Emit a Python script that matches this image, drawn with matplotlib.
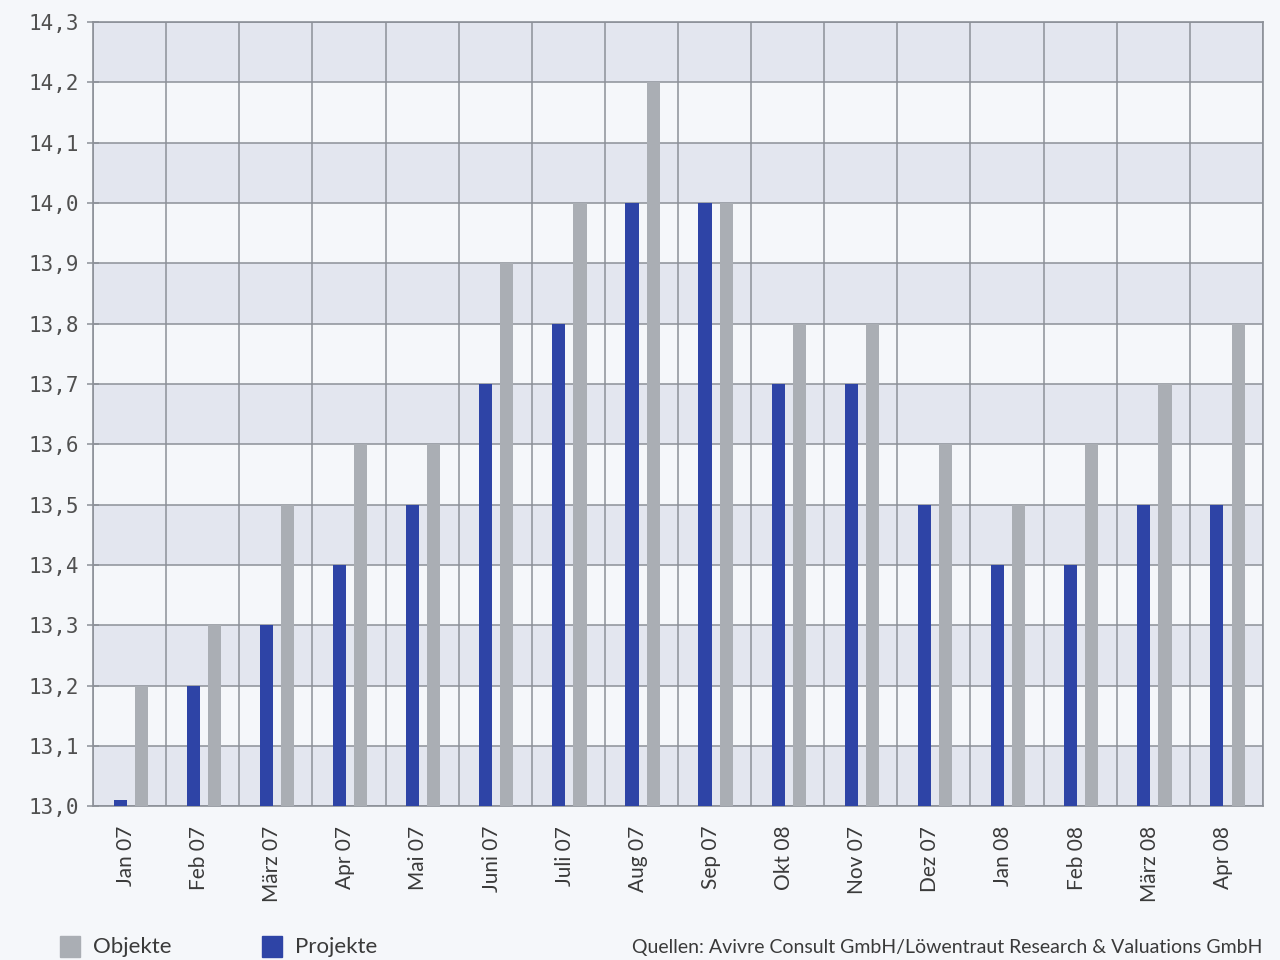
import numpy as np
import matplotlib
matplotlib.use('Agg')
import matplotlib.pyplot as plt
from matplotlib.patches import Rectangle

# Monatsdaten (Beschriftung wie im Original, inkl. "Okt 08")
monate = ['Jan 07', 'Feb 07', 'März 07', 'Apr 07', 'Mai 07', 'Juni 07', 'Juli 07', 'Aug 07',
          'Sep 07', 'Okt 08', 'Nov 07', 'Dez 07', 'Jan 08', 'Feb 08', 'März 08', 'Apr 08']
projekte = [13.01, 13.2, 13.3, 13.4, 13.5, 13.7, 13.8, 14.0,
            14.0, 13.7, 13.7, 13.5, 13.4, 13.4, 13.5, 13.5]
objekte = [13.2, 13.3, 13.5, 13.6, 13.6, 13.9, 14.0, 14.2,
           14.0, 13.8, 13.8, 13.6, 13.5, 13.6, 13.7, 13.8]
yticks = [13.0, 13.1, 13.2, 13.3, 13.4, 13.5, 13.6, 13.7, 13.8, 13.9, 14.0, 14.1, 14.2, 14.3]

blau = '#2e44a6'
grau = '#aaaeb4'
band = '#e3e6ef'
hell = '#f5f7fa'
linie = '#8c9098'
text = '#3a3a3a'

fig = plt.figure(figsize=(12.8, 9.6), dpi=100)
fig.patch.set_facecolor(hell)
ax = fig.add_axes([0.0727, 0.160, 0.914, 0.817])
ax.set_facecolor(hell)

ymin, ymax = 13.0, 14.3
n = len(monate)
x = np.arange(n)

# abwechselnde Baender
for i in range(len(yticks) - 1):
    if i % 2 == 0:
        ax.axhspan(yticks[i], yticks[i + 1], color=band, zorder=0, lw=0)

# Gitter
for yv in yticks:
    ax.axhline(yv, color=linie, lw=1.1, zorder=1)
for xv in range(n + 1):
    ax.axvline(xv, color=linie, lw=1.1, zorder=1)

w = 0.18
ax.bar(x + 0.37, np.array(projekte) - ymin, bottom=ymin, width=w, color=blau, zorder=3)
ax.bar(x + 0.66, np.array(objekte) - ymin, bottom=ymin, width=w, color=grau, zorder=3)

ax.set_xlim(0, n)
ax.set_ylim(ymin, ymax)
ax.set_yticks(yticks)
ax.set_yticklabels([('%.1f' % v).replace('.', ',') for v in yticks],
                   family='DejaVu Sans Mono', fontsize=15, color='#505050')
ax.tick_params(axis='y', direction='inout', length=8, width=1.1, color=linie, pad=6)

ax.set_xticks(x + 0.45)
ax.set_xticklabels(monate, rotation=90, fontsize=15, family='Lato', color=text)
ax.tick_params(axis='x', length=0, pad=14)

for s in ax.spines.values():
    s.set_color(linie)
    s.set_linewidth(1.2)

# Legende unten
fig.patches.append(Rectangle((60 / 1280, 1 - 957 / 960), 20 / 1280, 21 / 960,
                             transform=fig.transFigure, color=grau))
fig.text(93 / 1280, 1 - 947 / 960, 'Objekte', fontsize=16, family='Lato',
         color=text, va='center')
fig.patches.append(Rectangle((262 / 1280, 1 - 957 / 960), 20 / 1280, 21 / 960,
                             transform=fig.transFigure, color=blau))
fig.text(295 / 1280, 1 - 947 / 960, 'Projekte', fontsize=16, family='Lato',
         color=text, va='center')

fig.text(1262 / 1280, 1 - 948 / 960,
         'Quellen: Avivre Consult GmbH/Löwentraut Research & Valuations GmbH',
         fontsize=14, family='Lato', color=text, ha='right', va='center')

plt.savefig('out.png', dpi=100, facecolor=fig.get_facecolor())
plt.close()
